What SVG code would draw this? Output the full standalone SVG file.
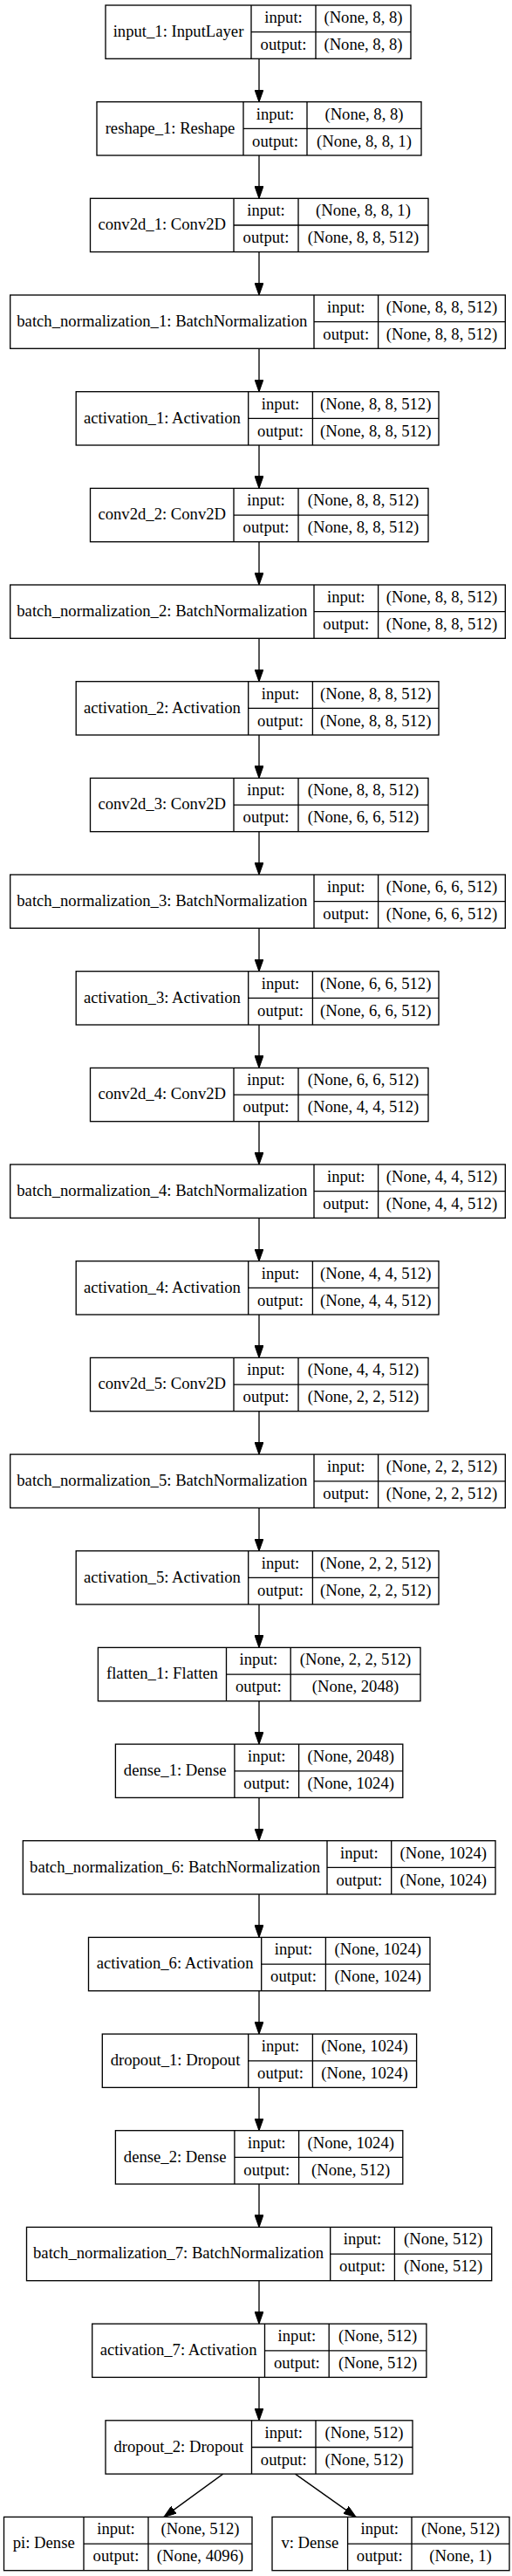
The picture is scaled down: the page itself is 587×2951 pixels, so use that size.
<svg xmlns="http://www.w3.org/2000/svg" width="587" height="2951" viewBox="0 0 587 2951">
<style>
.b{fill:#fff;stroke:#000;stroke-width:1.33}
.d{fill:none;stroke:#000;stroke-width:1.33}
.e{fill:none;stroke:#000;stroke-width:1.33;marker-end:url(#a)}
text{font-family:"Liberation Serif","Times New Roman",serif;font-size:18.67px;text-anchor:middle;fill:#000}
</style>
<defs>
<marker id="a" markerUnits="userSpaceOnUse" markerWidth="14" markerHeight="10" viewBox="0 0 13.3 9.4" refX="13.3" refY="4.7" orient="auto">
<path d="M0 0L13.3 4.7L0 9.4Z" fill="#000" stroke="#000" stroke-width="1"/>
</marker>
</defs>
<rect width="587" height="2951" fill="#fff"/>
<g id="edges">
<path class="e" d="M297 67.3V116.7"/>
<path class="e" d="M297 178V227.3"/>
<path class="e" d="M297 288.6V338"/>
<path class="e" d="M297 399.3V448.7"/>
<path class="e" d="M297 510V559.4"/>
<path class="e" d="M297 620.7V670"/>
<path class="e" d="M297 731.3V780.7"/>
<path class="e" d="M297 842V891.4"/>
<path class="e" d="M297 952.7V1002"/>
<path class="e" d="M297 1063.3V1112.7"/>
<path class="e" d="M297 1174V1223.4"/>
<path class="e" d="M297 1284.7V1334"/>
<path class="e" d="M297 1395.3V1444.7"/>
<path class="e" d="M297 1506V1555.4"/>
<path class="e" d="M297 1616.7V1666.1"/>
<path class="e" d="M297 1727.4V1776.7"/>
<path class="e" d="M297 1838V1887.4"/>
<path class="e" d="M297 1948.7V1998.1"/>
<path class="e" d="M297 2059.4V2108.7"/>
<path class="e" d="M297 2170V2219.4"/>
<path class="e" d="M297 2280.7V2330.1"/>
<path class="e" d="M297 2391.4V2440.7"/>
<path class="e" d="M297 2502V2551.4"/>
<path class="e" d="M297 2612.7V2662.1"/>
<path class="e" d="M297 2723.4V2772.8"/>
<path class="e" d="M255.7 2834.1L188 2883.4"/>
<path class="e" d="M338.5 2834.1L408 2883.4"/>
</g>
<g id="input_1"><rect class="b" x="121" y="6" width="350" height="61.3"/><path class="d" d="M288 6V67.3M362 6V67.3M288 36.7H471"/><text x="204.5" y="42">input_1: InputLayer</text><text x="325" y="26">input:</text><text x="325" y="57">output:</text><text x="416.5" y="26">(None, 8, 8)</text><text x="416.5" y="57">(None, 8, 8)</text></g>
<g id="reshape_1"><rect class="b" x="111" y="116.7" width="372" height="61.3"/><path class="d" d="M279 116.7V178M352 116.7V178M279 147.3H483"/><text x="195" y="152.7">reshape_1: Reshape</text><text x="315.5" y="136.7">input:</text><text x="315.5" y="167.7">output:</text><text x="417.5" y="136.7">(None, 8, 8)</text><text x="417.5" y="167.7">(None, 8, 8, 1)</text></g>
<g id="conv2d_1"><rect class="b" x="103.5" y="227.3" width="387.5" height="61.3"/><path class="d" d="M268 227.3V288.6M342 227.3V288.6M268 258H491"/><text x="185.75" y="263.3">conv2d_1: Conv2D</text><text x="305" y="247.3">input:</text><text x="305" y="278.3">output:</text><text x="416.5" y="247.3">(None, 8, 8, 1)</text><text x="416.5" y="278.3">(None, 8, 8, 512)</text></g>
<g id="batch_normalization_1"><rect class="b" x="11.7" y="338" width="567.6" height="61.3"/><path class="d" d="M360 338V399.3M433.6 338V399.3M360 368.7H579.3"/><text x="185.85" y="374">batch_normalization_1: BatchNormalization</text><text x="396.8" y="358">input:</text><text x="396.8" y="389">output:</text><text x="506.45" y="358">(None, 8, 8, 512)</text><text x="506.45" y="389">(None, 8, 8, 512)</text></g>
<g id="activation_1"><rect class="b" x="87.2" y="448.7" width="415.8" height="61.3"/><path class="d" d="M284.7 448.7V510M358.4 448.7V510M284.7 479.4H503"/><text x="185.95" y="484.7">activation_1: Activation</text><text x="321.55" y="468.7">input:</text><text x="321.55" y="499.7">output:</text><text x="430.7" y="468.7">(None, 8, 8, 512)</text><text x="430.7" y="499.7">(None, 8, 8, 512)</text></g>
<g id="conv2d_2"><rect class="b" x="103.5" y="559.4" width="387.5" height="61.3"/><path class="d" d="M268 559.4V620.7M342 559.4V620.7M268 590.1H491"/><text x="185.75" y="595.4">conv2d_2: Conv2D</text><text x="305" y="579.4">input:</text><text x="305" y="610.4">output:</text><text x="416.5" y="579.4">(None, 8, 8, 512)</text><text x="416.5" y="610.4">(None, 8, 8, 512)</text></g>
<g id="batch_normalization_2"><rect class="b" x="11.7" y="670" width="567.6" height="61.3"/><path class="d" d="M360 670V731.3M433.6 670V731.3M360 700.7H579.3"/><text x="185.85" y="706">batch_normalization_2: BatchNormalization</text><text x="396.8" y="690">input:</text><text x="396.8" y="721">output:</text><text x="506.45" y="690">(None, 8, 8, 512)</text><text x="506.45" y="721">(None, 8, 8, 512)</text></g>
<g id="activation_2"><rect class="b" x="87.2" y="780.7" width="415.8" height="61.3"/><path class="d" d="M284.7 780.7V842M358.4 780.7V842M284.7 811.4H503"/><text x="185.95" y="816.7">activation_2: Activation</text><text x="321.55" y="800.7">input:</text><text x="321.55" y="831.7">output:</text><text x="430.7" y="800.7">(None, 8, 8, 512)</text><text x="430.7" y="831.7">(None, 8, 8, 512)</text></g>
<g id="conv2d_3"><rect class="b" x="103.5" y="891.4" width="387.5" height="61.3"/><path class="d" d="M268 891.4V952.7M342 891.4V952.7M268 922.1H491"/><text x="185.75" y="927.4">conv2d_3: Conv2D</text><text x="305" y="911.4">input:</text><text x="305" y="942.4">output:</text><text x="416.5" y="911.4">(None, 8, 8, 512)</text><text x="416.5" y="942.4">(None, 6, 6, 512)</text></g>
<g id="batch_normalization_3"><rect class="b" x="11.7" y="1002" width="567.6" height="61.3"/><path class="d" d="M360 1002V1063.3M433.6 1002V1063.3M360 1032.7H579.3"/><text x="185.85" y="1038">batch_normalization_3: BatchNormalization</text><text x="396.8" y="1022">input:</text><text x="396.8" y="1053">output:</text><text x="506.45" y="1022">(None, 6, 6, 512)</text><text x="506.45" y="1053">(None, 6, 6, 512)</text></g>
<g id="activation_3"><rect class="b" x="87.2" y="1112.7" width="415.8" height="61.3"/><path class="d" d="M284.7 1112.7V1174M358.4 1112.7V1174M284.7 1143.4H503"/><text x="185.95" y="1148.7">activation_3: Activation</text><text x="321.55" y="1132.7">input:</text><text x="321.55" y="1163.7">output:</text><text x="430.7" y="1132.7">(None, 6, 6, 512)</text><text x="430.7" y="1163.7">(None, 6, 6, 512)</text></g>
<g id="conv2d_4"><rect class="b" x="103.5" y="1223.4" width="387.5" height="61.3"/><path class="d" d="M268 1223.4V1284.7M342 1223.4V1284.7M268 1254.1H491"/><text x="185.75" y="1259.4">conv2d_4: Conv2D</text><text x="305" y="1243.4">input:</text><text x="305" y="1274.4">output:</text><text x="416.5" y="1243.4">(None, 6, 6, 512)</text><text x="416.5" y="1274.4">(None, 4, 4, 512)</text></g>
<g id="batch_normalization_4"><rect class="b" x="11.7" y="1334" width="567.6" height="61.3"/><path class="d" d="M360 1334V1395.3M433.6 1334V1395.3M360 1364.7H579.3"/><text x="185.85" y="1370">batch_normalization_4: BatchNormalization</text><text x="396.8" y="1354">input:</text><text x="396.8" y="1385">output:</text><text x="506.45" y="1354">(None, 4, 4, 512)</text><text x="506.45" y="1385">(None, 4, 4, 512)</text></g>
<g id="activation_4"><rect class="b" x="87.2" y="1444.7" width="415.8" height="61.3"/><path class="d" d="M284.7 1444.7V1506M358.4 1444.7V1506M284.7 1475.4H503"/><text x="185.95" y="1480.7">activation_4: Activation</text><text x="321.55" y="1464.7">input:</text><text x="321.55" y="1495.7">output:</text><text x="430.7" y="1464.7">(None, 4, 4, 512)</text><text x="430.7" y="1495.7">(None, 4, 4, 512)</text></g>
<g id="conv2d_5"><rect class="b" x="103.5" y="1555.4" width="387.5" height="61.3"/><path class="d" d="M268 1555.4V1616.7M342 1555.4V1616.7M268 1586.1H491"/><text x="185.75" y="1591.4">conv2d_5: Conv2D</text><text x="305" y="1575.4">input:</text><text x="305" y="1606.4">output:</text><text x="416.5" y="1575.4">(None, 4, 4, 512)</text><text x="416.5" y="1606.4">(None, 2, 2, 512)</text></g>
<g id="batch_normalization_5"><rect class="b" x="11.7" y="1666.1" width="567.6" height="61.3"/><path class="d" d="M360 1666.1V1727.4M433.6 1666.1V1727.4M360 1696.8H579.3"/><text x="185.85" y="1702.1">batch_normalization_5: BatchNormalization</text><text x="396.8" y="1686.1">input:</text><text x="396.8" y="1717.1">output:</text><text x="506.45" y="1686.1">(None, 2, 2, 512)</text><text x="506.45" y="1717.1">(None, 2, 2, 512)</text></g>
<g id="activation_5"><rect class="b" x="87.2" y="1776.7" width="415.8" height="61.3"/><path class="d" d="M284.7 1776.7V1838M358.4 1776.7V1838M284.7 1807.4H503"/><text x="185.95" y="1812.7">activation_5: Activation</text><text x="321.55" y="1796.7">input:</text><text x="321.55" y="1827.7">output:</text><text x="430.7" y="1796.7">(None, 2, 2, 512)</text><text x="430.7" y="1827.7">(None, 2, 2, 512)</text></g>
<g id="flatten_1"><rect class="b" x="112.4" y="1887.4" width="369.6" height="61.3"/><path class="d" d="M259.5 1887.4V1948.7M333.2 1887.4V1948.7M259.5 1918.1H482"/><text x="185.95" y="1923.4">flatten_1: Flatten</text><text x="296.35" y="1907.4">input:</text><text x="296.35" y="1938.4">output:</text><text x="407.6" y="1907.4">(None, 2, 2, 512)</text><text x="407.6" y="1938.4">(None, 2048)</text></g>
<g id="dense_1"><rect class="b" x="132.4" y="1998.1" width="329.4" height="61.3"/><path class="d" d="M268.9 1998.1V2059.4M342.6 1998.1V2059.4M268.9 2028.8H461.8"/><text x="200.65" y="2034.1">dense_1: Dense</text><text x="305.75" y="2018.1">input:</text><text x="305.75" y="2049.1">output:</text><text x="402.2" y="2018.1">(None, 2048)</text><text x="402.2" y="2049.1">(None, 1024)</text></g>
<g id="batch_normalization_6"><rect class="b" x="26.3" y="2108.7" width="541.7" height="61.3"/><path class="d" d="M375 2108.7V2170M448.7 2108.7V2170M375 2139.4H568"/><text x="200.65" y="2144.7">batch_normalization_6: BatchNormalization</text><text x="411.85" y="2128.7">input:</text><text x="411.85" y="2159.7">output:</text><text x="508.35" y="2128.7">(None, 1024)</text><text x="508.35" y="2159.7">(None, 1024)</text></g>
<g id="activation_6"><rect class="b" x="101.5" y="2219.4" width="391.5" height="61.3"/><path class="d" d="M299.7 2219.4V2280.7M373.4 2219.4V2280.7M299.7 2250.1H493"/><text x="200.6" y="2255.4">activation_6: Activation</text><text x="336.55" y="2239.4">input:</text><text x="336.55" y="2270.4">output:</text><text x="433.2" y="2239.4">(None, 1024)</text><text x="433.2" y="2270.4">(None, 1024)</text></g>
<g id="dropout_1"><rect class="b" x="117.3" y="2330.1" width="360.3" height="61.3"/><path class="d" d="M284.7 2330.1V2391.4M358.4 2330.1V2391.4M284.7 2360.8H477.6"/><text x="201" y="2366.1">dropout_1: Dropout</text><text x="321.55" y="2350.1">input:</text><text x="321.55" y="2381.1">output:</text><text x="418" y="2350.1">(None, 1024)</text><text x="418" y="2381.1">(None, 1024)</text></g>
<g id="dense_2"><rect class="b" x="132.4" y="2440.7" width="329.4" height="61.3"/><path class="d" d="M268.9 2440.7V2502M342.6 2440.7V2502M268.9 2471.4H461.8"/><text x="200.65" y="2476.7">dense_2: Dense</text><text x="305.75" y="2460.7">input:</text><text x="305.75" y="2491.7">output:</text><text x="402.2" y="2460.7">(None, 1024)</text><text x="402.2" y="2491.7">(None, 512)</text></g>
<g id="batch_normalization_7"><rect class="b" x="30.5" y="2551.4" width="533.2" height="61.3"/><path class="d" d="M378.7 2551.4V2612.7M452.4 2551.4V2612.7M378.7 2582.1H563.7"/><text x="204.6" y="2587.4">batch_normalization_7: BatchNormalization</text><text x="415.55" y="2571.4">input:</text><text x="415.55" y="2602.4">output:</text><text x="508.05" y="2571.4">(None, 512)</text><text x="508.05" y="2602.4">(None, 512)</text></g>
<g id="activation_7"><rect class="b" x="105.7" y="2662.1" width="383.2" height="61.3"/><path class="d" d="M303.5 2662.1V2723.4M377.2 2662.1V2723.4M303.5 2692.8H488.9"/><text x="204.6" y="2698.1">activation_7: Activation</text><text x="340.35" y="2682.1">input:</text><text x="340.35" y="2713.1">output:</text><text x="433.05" y="2682.1">(None, 512)</text><text x="433.05" y="2713.1">(None, 512)</text></g>
<g id="dropout_2"><rect class="b" x="121" y="2772.8" width="352" height="61.3"/><path class="d" d="M288.5 2772.8V2834.1M362 2772.8V2834.1M288.5 2803.5H473"/><text x="204.75" y="2808.8">dropout_2: Dropout</text><text x="325.25" y="2792.8">input:</text><text x="325.25" y="2823.8">output:</text><text x="417.5" y="2792.8">(None, 512)</text><text x="417.5" y="2823.8">(None, 512)</text></g>
<g id="pi"><rect class="b" x="4.5" y="2883.4" width="284.5" height="61.3"/><path class="d" d="M96 2883.4V2944.7M170 2883.4V2944.7M96 2914.1H289"/><text x="50.25" y="2919.4">pi: Dense</text><text x="133" y="2903.4">input:</text><text x="133" y="2934.4">output:</text><text x="229.5" y="2903.4">(None, 512)</text><text x="229.5" y="2934.4">(None, 4096)</text></g>
<g id="v"><rect class="b" x="312" y="2883.4" width="272" height="61.3"/><path class="d" d="M398.6 2883.4V2944.7M472 2883.4V2944.7M398.6 2914.1H584"/><text x="355.3" y="2919.4">v: Dense</text><text x="435.3" y="2903.4">input:</text><text x="435.3" y="2934.4">output:</text><text x="528" y="2903.4">(None, 512)</text><text x="528" y="2934.4">(None, 1)</text></g>
</svg>
